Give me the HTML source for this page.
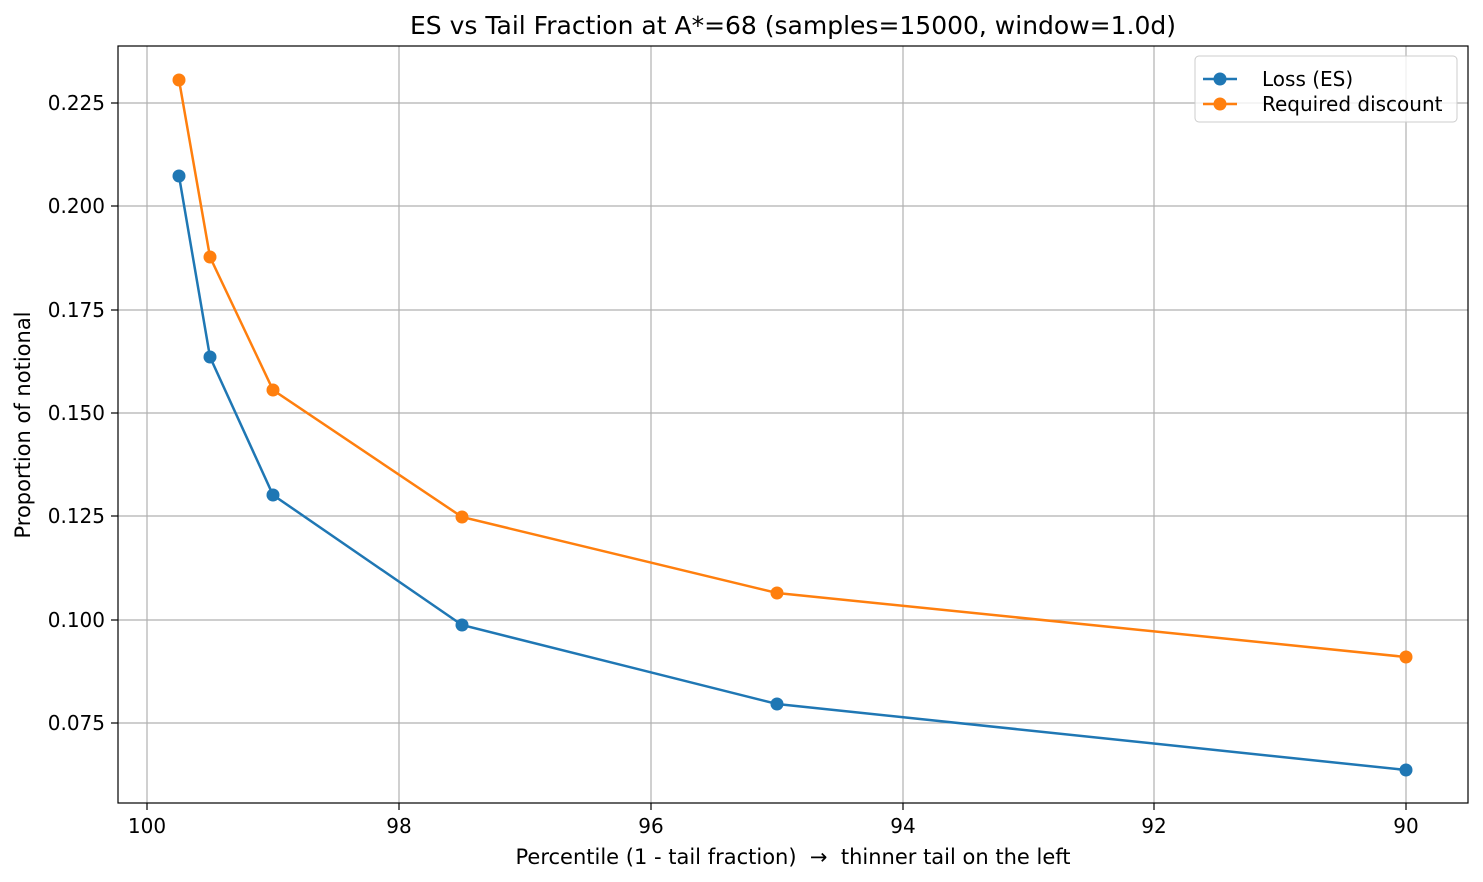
<!DOCTYPE html>
<html><head><meta charset="utf-8"><style>
html,body{margin:0;padding:0;background:#fff;}
svg{display:block;font-family:"DejaVu Sans","Liberation Sans",sans-serif;}
</style></head><body>
<svg width="1483" height="882" viewBox="0 0 1483 882" xmlns="http://www.w3.org/2000/svg">
<rect width="1483" height="882" fill="#fff"/>
<g stroke="#b0b0b0" stroke-width="1.2">
<line x1="147" y1="46" x2="147" y2="803"/>
<line x1="399" y1="46" x2="399" y2="803"/>
<line x1="651" y1="46" x2="651" y2="803"/>
<line x1="903" y1="46" x2="903" y2="803"/>
<line x1="1154" y1="46" x2="1154" y2="803"/>
<line x1="1406" y1="46" x2="1406" y2="803"/>
<line x1="118" y1="723" x2="1468" y2="723"/>
<line x1="118" y1="620" x2="1468" y2="620"/>
<line x1="118" y1="516" x2="1468" y2="516"/>
<line x1="118" y1="413" x2="1468" y2="413"/>
<line x1="118" y1="310" x2="1468" y2="310"/>
<line x1="118" y1="206" x2="1468" y2="206"/>
<line x1="118" y1="103" x2="1468" y2="103"/>
</g>
<g stroke="#000" stroke-width="1.2">
<line x1="147" y1="803" x2="147" y2="810"/><line x1="399" y1="803" x2="399" y2="810"/>
<line x1="651" y1="803" x2="651" y2="810"/><line x1="903" y1="803" x2="903" y2="810"/>
<line x1="1154" y1="803" x2="1154" y2="810"/><line x1="1406" y1="803" x2="1406" y2="810"/>
<line x1="111" y1="723" x2="118" y2="723"/><line x1="111" y1="620" x2="118" y2="620"/>
<line x1="111" y1="516" x2="118" y2="516"/><line x1="111" y1="413" x2="118" y2="413"/>
<line x1="111" y1="310" x2="118" y2="310"/><line x1="111" y1="206" x2="118" y2="206"/>
<line x1="111" y1="103" x2="118" y2="103"/>
</g>
<g font-size="20" fill="#000" text-anchor="middle">
<text x="147" y="833">100</text><text x="399" y="833">98</text><text x="651" y="833">96</text>
<text x="903" y="833">94</text><text x="1154" y="833">92</text><text x="1406" y="833">90</text>
</g>
<g font-size="20" fill="#000" text-anchor="end">
<text x="105" y="730">0.075</text><text x="105" y="627">0.100</text><text x="105" y="523">0.125</text>
<text x="105" y="420">0.150</text><text x="105" y="317">0.175</text><text x="105" y="213">0.200</text>
<text x="105" y="110">0.225</text>
</g>
<text x="793" y="864" font-size="21" text-anchor="middle" xml:space="preserve" style="white-space:pre">Percentile (1 - tail fraction)  →  thinner tail on the left</text>
<text transform="translate(30,425) rotate(-90)" font-size="21" text-anchor="middle">Proportion of notional</text>
<text x="793" y="34" font-size="25" text-anchor="middle">ES vs Tail Fraction at A*=68 (samples=15000, window=1.0d)</text>
<polyline fill="none" stroke="#1f77b4" stroke-width="2.5" points="179,176 210,357 273,495 462,625 777,704 1406,770"/>
<polyline fill="none" stroke="#ff7f0e" stroke-width="2.5" points="179,80 210,257 273,390 462,517 777,593 1406,657"/>
<g fill="#1f77b4">
<circle cx="179" cy="176" r="6.5"/><circle cx="210" cy="357" r="6.5"/><circle cx="273" cy="495" r="6.5"/>
<circle cx="462" cy="625" r="6.5"/><circle cx="777" cy="704" r="6.5"/><circle cx="1406" cy="770" r="6.5"/>
</g>
<g fill="#ff7f0e">
<circle cx="179" cy="80" r="6.5"/><circle cx="210" cy="257" r="6.5"/><circle cx="273" cy="390" r="6.5"/>
<circle cx="462" cy="517" r="6.5"/><circle cx="777" cy="593" r="6.5"/><circle cx="1406" cy="657" r="6.5"/>
</g>
<rect x="118" y="46" width="1350" height="757" fill="none" stroke="#000" stroke-width="1.2"/>
<rect x="1195" y="56" width="262" height="66" rx="4" fill="#fff" fill-opacity="0.8" stroke="#ccc" stroke-width="1"/>
<line x1="1203" y1="79" x2="1237" y2="79" stroke="#1f77b4" stroke-width="2.5"/>
<circle cx="1220" cy="79" r="6.5" fill="#1f77b4"/>
<text x="1262" y="86" font-size="20">Loss (ES)</text>
<line x1="1203" y1="104" x2="1237" y2="104" stroke="#ff7f0e" stroke-width="2.5"/>
<circle cx="1220" cy="104" r="6.5" fill="#ff7f0e"/>
<text x="1262" y="111" font-size="20">Required discount</text>
</svg>
</body></html>
